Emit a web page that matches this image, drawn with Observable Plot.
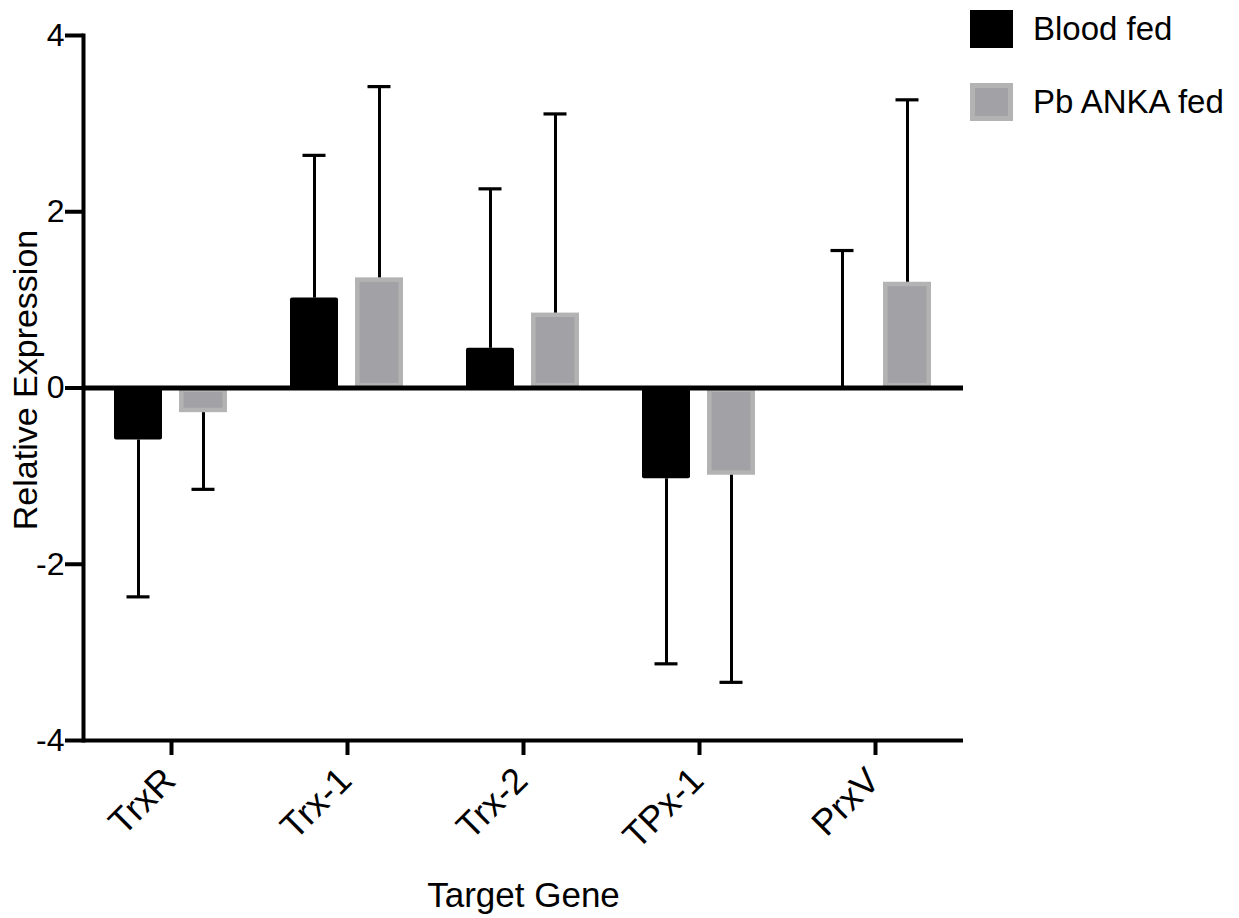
<!DOCTYPE html>
<html>
<head>
<meta charset="utf-8">
<script src="https://cdn.jsdelivr.net/npm/d3@7"></script>
<script src="https://cdn.jsdelivr.net/npm/@observablehq/plot@0.6"></script>
<style>
  html, body { margin: 0; padding: 0; background: #fff; }
  #wrap { position: relative; width: 1239px; height: 918px; font-family: "Liberation Sans", Arial, Helvetica, sans-serif; }
  #legend { position: absolute; left: 970px; top: 10px; }
  .row { display: flex; align-items: center; height: 38px; margin-bottom: 35px; }
  .sw { width: 43px; height: 38px; box-sizing: border-box; margin-right: 20px; }
  .lab { font-size: 33px; color: #000; }
</style>
</head>
<body>
<div id="wrap"></div>
<script>
const genes = ["TrxR", "Trx-1", "Trx-2", "TPx-1", "PrxV"];
const series = ["Blood fed", "Pb ANKA fed"];
const bloodMean = [-0.59, 1.02, 0.45, -1.03, 0.01];
const bloodErr = [1.78, 1.62, 1.81, 2.10, 1.55];
const pbMean = [-0.28, 1.25, 0.85, -0.99, 1.20];
const pbErr = [0.87, 2.17, 2.26, 2.35, 2.07];
const yTicks = [-4, -2, 0, 2, 4];
const yLabel = "Relative Expression";
const xLabel = "Target Gene";
const colors = ["#000000", "#a2a2a6"];
const pbBorder = "#b3b3b3";

const rows = [];
genes.forEach((g, i) => {
  [[bloodMean, bloodErr, series[0]], [pbMean, pbErr, series[1]]].forEach(([m, e, s]) => {
    const mean = m[i];
    const sign = mean >= 0 ? 1 : -1;
    rows.push({gene: g, series: s, mean, end: mean + sign * e[i]});
  });
});

const font = '"Liberation Sans", Arial, Helvetica, sans-serif';

const chart = Plot.plot({
  width: 1239,
  height: 918,
  marginLeft: 82,
  marginRight: 276,
  marginTop: 35,
  marginBottom: 178,
  style: {fontFamily: font, fontSize: "32px", color: "#000", background: "#fff", overflow: "visible"},
  fx: {domain: genes, padding: 0, label: null},
  x: {domain: series, paddingInner: 0.258, paddingOuter: 0.4625, axis: null},
  y: {domain: [-4, 4]},
  marks: [
    Plot.barY(rows.filter(d => d.series === series[0]), {fx: "gene", x: "series", y: "mean", fill: colors[0], rx: 2}),
    Plot.barY(rows.filter(d => d.series === series[1]), {fx: "gene", x: "series", y: "mean", fill: colors[1], stroke: pbBorder, strokeWidth: 4.5, inset: 2.25}),
    Plot.ruleY([0], {strokeWidth: 5, stroke: "#000"}),
    Plot.ruleY([-4], {strokeWidth: 4, stroke: "#000"}),
    Plot.frame({anchor: "left", facetAnchor: "left", strokeWidth: 4, stroke: "#000"}),
    Plot.ruleX(rows, {fx: "gene", x: "series", y1: "mean", y2: "end", strokeWidth: 3, stroke: "#000"}),
    Plot.tickY(rows, {fx: "gene", x: "series", y: "end", strokeWidth: 3.2, stroke: "#000", insetLeft: 12.5, insetRight: 12.5}),
    Plot.axisY({ticks: yTicks, tickFormat: d => String(d), tickSize: 18, tickPadding: 1, strokeWidth: 4, fontSize: 32, label: null}),
    Plot.text([yLabel], {text: d => d, frameAnchor: "left", facetAnchor: "left", rotate: -90, dx: -57, dy: -8, fontSize: 34, textAnchor: "middle", lineAnchor: "middle", fill: "#000"}),
    Plot.axisFx({anchor: "bottom", tickSize: 15, strokeWidth: 4, tickFormat: () => "", label: null}),
    Plot.axisFx({anchor: "bottom", tickSize: 0, tickRotate: -45, textAnchor: "end", tickPadding: 34, dx: -2, fontSize: 36, label: null}),
    Plot.axisFx({anchor: "bottom", ticks: [], tickSize: 0, label: xLabel, labelAnchor: "center", labelArrow: "none", labelOffset: 166, fontSize: 35})
  ]
});

const wrap = document.getElementById("wrap");
wrap.appendChild(chart);

const legend = document.createElement("div");
legend.id = "legend";
series.forEach((s, i) => {
  const row = document.createElement("div");
  row.className = "row";
  const sw = document.createElement("span");
  sw.className = "sw";
  sw.style.background = colors[i];
  if (i === 1) sw.style.border = `5px solid ${pbBorder}`;
  const lab = document.createElement("span");
  lab.className = "lab";
  lab.textContent = s;
  row.appendChild(sw);
  row.appendChild(lab);
  legend.appendChild(row);
});
wrap.appendChild(legend);
</script>
</body>
</html>
